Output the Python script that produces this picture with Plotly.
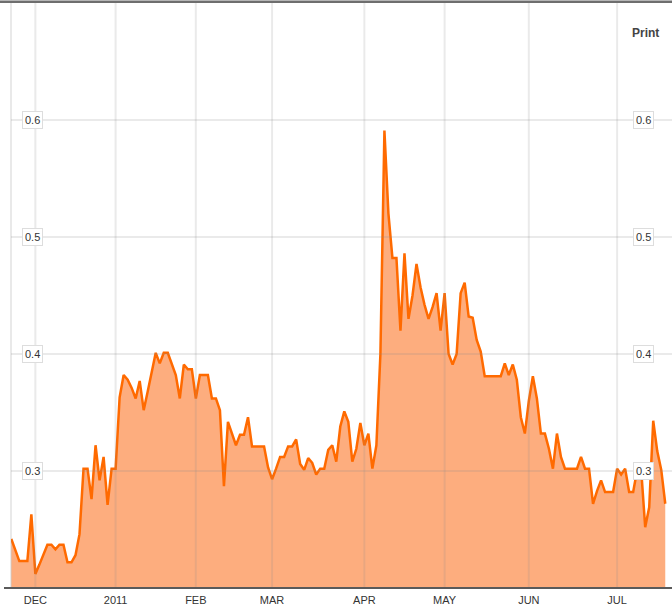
import plotly.graph_objects as go

# Daily values (trading-day index)
values = [
    0.242, 0.232, 0.223, 0.223, 0.223, 0.263, 0.212, 0.220, 0.229, 0.237,
    0.237, 0.233, 0.237, 0.237, 0.222, 0.222, 0.228, 0.246, 0.302, 0.302,
    0.276, 0.322, 0.292, 0.312, 0.271, 0.302, 0.302, 0.363, 0.382, 0.378,
    0.371, 0.362, 0.377, 0.352, 0.368, 0.385, 0.401, 0.392, 0.401, 0.401,
    0.392, 0.382, 0.362, 0.391, 0.387, 0.387, 0.362, 0.382, 0.382, 0.382,
    0.362, 0.362, 0.352, 0.287, 0.342, 0.332, 0.322, 0.331, 0.331, 0.346,
    0.321, 0.321, 0.321, 0.321, 0.303, 0.293, 0.302, 0.312, 0.312, 0.321,
    0.321, 0.327, 0.306, 0.301, 0.311, 0.307, 0.297, 0.302, 0.302, 0.318,
    0.322, 0.308, 0.338, 0.351, 0.342, 0.308, 0.319, 0.341, 0.322, 0.332,
    0.302, 0.322, 0.400, 0.591, 0.520, 0.482, 0.482, 0.420, 0.486, 0.430,
    0.450, 0.477, 0.457, 0.442, 0.430, 0.440, 0.452, 0.420, 0.452, 0.400,
    0.391, 0.400, 0.452, 0.461, 0.432, 0.431, 0.412, 0.402, 0.381, 0.381,
    0.381, 0.381, 0.381, 0.392, 0.382, 0.391, 0.378, 0.346, 0.332, 0.360,
    0.381, 0.362, 0.332, 0.332, 0.319, 0.302, 0.332, 0.312, 0.302, 0.302,
    0.302, 0.302, 0.312, 0.302, 0.302, 0.272, 0.283, 0.292, 0.282, 0.282,
    0.282, 0.302, 0.297, 0.302, 0.282, 0.282, 0.301, 0.301, 0.252, 0.269,
    0.343, 0.317, 0.301, 0.272,
]
days = list(range(len(values)))

# Month tick positions (trading-day index) and labels
month_ticks = [6, 26, 46, 65, 88, 108, 129, 151]
month_labels = ["DEC", "2011", "FEB", "MAR", "APR", "MAY", "JUN", "JUL"]

y_ticks = [0.3, 0.4, 0.5, 0.6]
y_labels = ["0.3", "0.4", "0.5", "0.6"]

W, H = 672, 615
ML, MR, MT, MB = 11, 0, 3, 27
PW = W - ML - MR

fig = go.Figure()
fig.add_trace(go.Scatter(
    x=days, y=values, mode="lines",
    line=dict(color="#FF6A00", width=2.5),
    fill="tozeroy", fillcolor="#FDAD7E",
    hoverinfo="skip", showlegend=False,
))

shapes = []
grid_col = "rgba(140,140,140,0.18)"
for t in month_ticks:
    shapes.append(dict(type="line", xref="x", yref="paper", x0=t, x1=t, y0=0, y1=1,
                       line=dict(color=grid_col, width=2), layer="above"))
for t in y_ticks:
    shapes.append(dict(type="line", xref="paper", yref="y", x0=0, x1=1, y0=t, y1=t,
                       line=dict(color=grid_col, width=2), layer="above"))
# left edge line
shapes.append(dict(type="line", xref="paper", yref="paper", x0=0, x1=0, y0=0, y1=1,
                   line=dict(color="rgba(140,140,140,0.25)", width=1.5), layer="above"))
# top frame line
shapes.append(dict(type="line", xref="paper", yref="paper", x0=-ML / PW, x1=1, y0=1.002, y1=1.002,
                   line=dict(color="#6E6E6E", width=2.5), layer="above"))
# bottom axis line
shapes.append(dict(type="line", xref="paper", yref="paper", x0=-7 / PW, x1=1, y0=0, y1=0,
                   line=dict(color="#5A5A5A", width=2), layer="above"))

annotations = []
for t, lab in zip(y_ticks, y_labels):
    for xp in [(32 - ML) / PW, (643 - ML) / PW]:
        annotations.append(dict(
            x=xp, xref="paper", y=t, yref="y", text=lab, showarrow=False,
            xanchor="center", yanchor="middle",
            font=dict(family="Liberation Sans, Arial, sans-serif", size=11, color="#333333"),
            bgcolor="white", bordercolor="#DDDDDD", borderwidth=1, borderpad=2,
        ))
annotations.append(dict(
    x=(645 - ML) / PW, xref="paper", y=(H - MB - 33) / (H - MT - MB), yref="paper",
    text="<b>Print</b>", showarrow=False, xanchor="center", yanchor="middle",
    font=dict(family="Liberation Sans, Arial, sans-serif", size=12, color="#444444"),
))

fig.update_layout(
    width=W, height=H,
    margin=dict(l=ML, r=MR, t=MT, b=MB, pad=0),
    paper_bgcolor="white", plot_bgcolor="white",
    xaxis=dict(
        range=[-0.075, 164.68], tickmode="array", tickvals=month_ticks, ticktext=month_labels,
        showgrid=False, zeroline=False, showline=False, ticks="", ticklen=0,
        ticklabelstandoff=4,
        tickfont=dict(family="Liberation Sans, Arial, sans-serif", size=11, color="#333333"),
        fixedrange=True,
    ),
    yaxis=dict(
        range=[0.2, 0.7], showgrid=False, zeroline=False, showline=False,
        showticklabels=False, ticks="", fixedrange=True,
    ),
    shapes=shapes, annotations=annotations,
)

fig.write_html(
    "out.html",
    config={"displayModeBar": False},
    post_script="document.body.style.margin='0';document.body.style.overflow='hidden';",
)
